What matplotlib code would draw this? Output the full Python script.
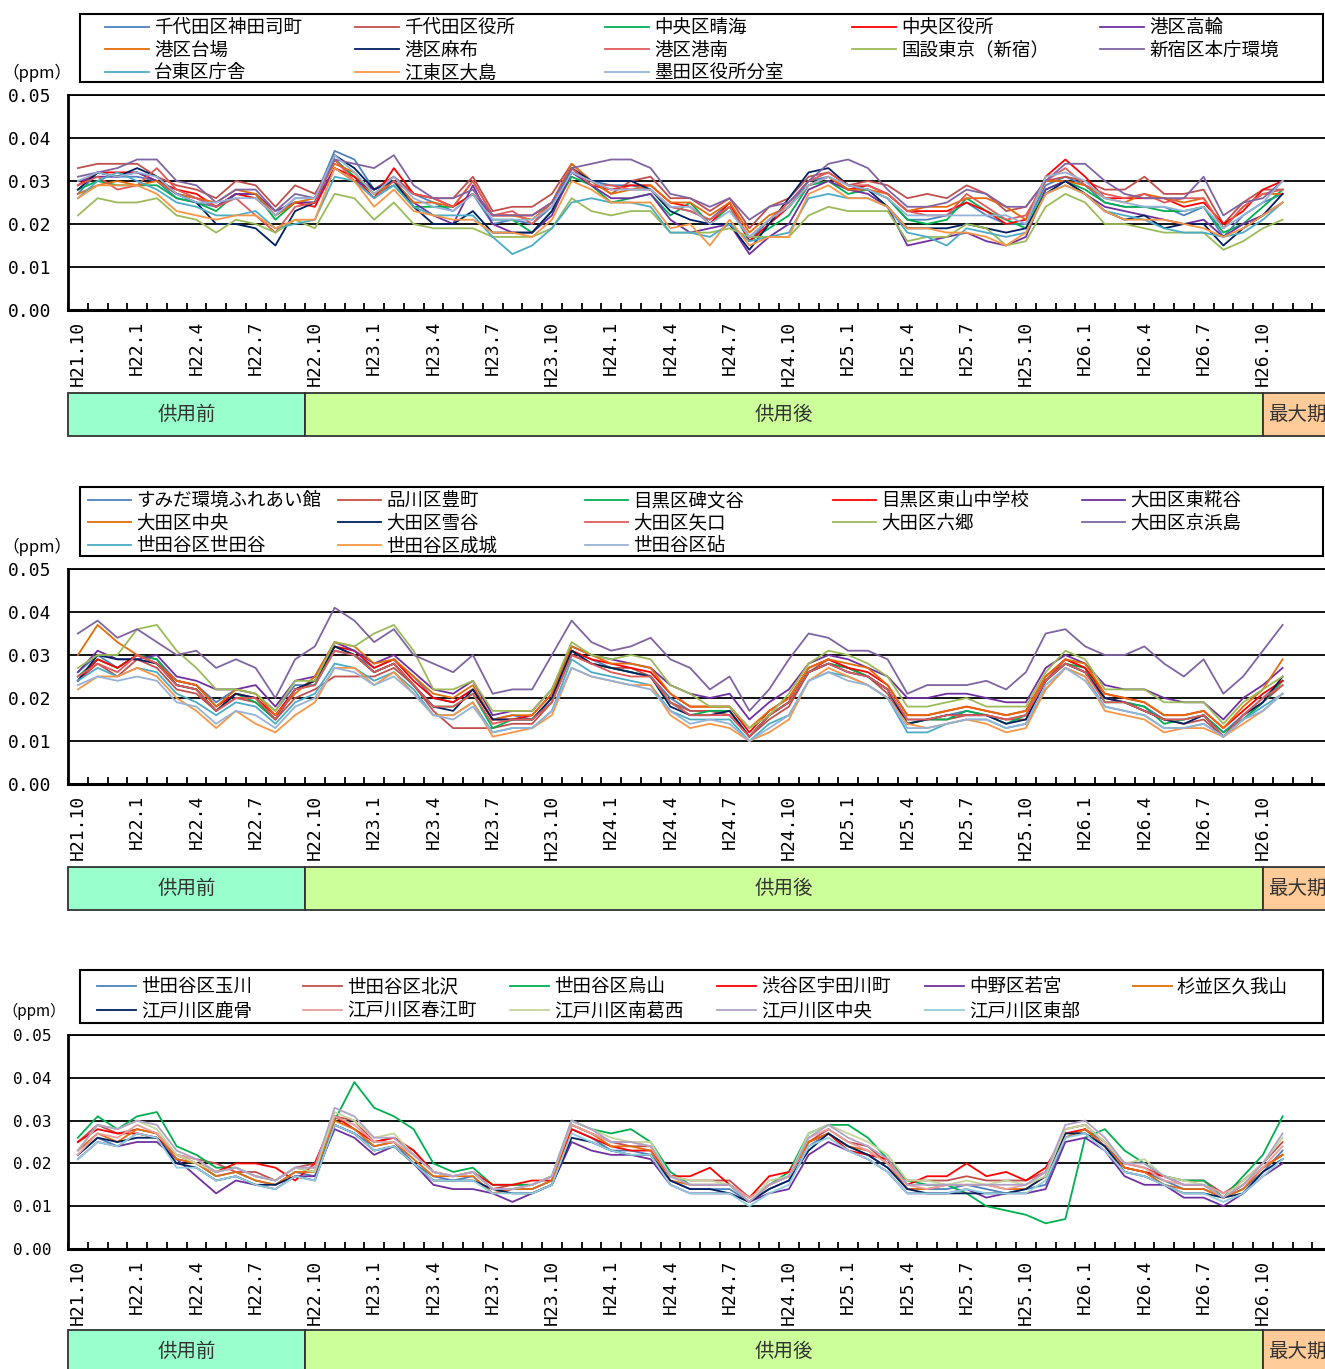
import matplotlib
matplotlib.use('Agg')
import matplotlib.pyplot as plt
from matplotlib.patches import Rectangle
import numpy as np

plt.rcParams['font.family'] = ['Noto Sans CJK JP', 'DejaVu Sans']

# ---------------- data (monthly means, unit: ppb = 0.001 ppm) ----------------
TICK_LABELS = ['H21.10', 'H22.1', 'H22.4', 'H22.7', 'H22.10', 'H23.1', 'H23.4',
               'H23.7', 'H23.10', 'H24.1', 'H24.4', 'H24.7', 'H24.10', 'H25.1',
               'H25.4', 'H25.7', 'H25.10', 'H26.1', 'H26.4', 'H26.7', 'H26.10']
PERIODS = ['供用前', '供用後', '最大期']

# panel 1
P1_NAMES = ['千代田区神田司町', '千代田区役所', '中央区晴海', '中央区役所', '港区高輪',
            '港区台場', '港区麻布', '港区港南', '国設東京（新宿）', '新宿区本庁環境',
            '台東区庁舎', '江東区大島', '墨田区役所分室']
KANDA = [27,32,31, 31,30,26, 25,24,27, 27,22,26, 26,37,35, 28,31,27, 25,23,27, 20,21,20, 24,32,30, 29,29,28, 24,23,21, 25,16,21, 24,30,31, 28,28,26, 21,21,22, 25,22,20, 20,29,31, 29,25,24, 24,24,22, 24,17,22, 25,27]
CHIYODA = [33,34,34, 34,31,29, 28,26,30, 29,24,29, 27,35,31, 28,31,27, 26,26,31, 23,24,24, 27,34,30, 27,30,31, 26,26,23, 26,19,24, 26,31,32, 29,30,29, 26,27,26, 29,27,23, 24,30,31, 30,28,28, 31,27,27, 28,20,25, 28,28]
HARUMI = [28,30,29, 29,29,26, 25,23,27, 27,21,25, 25,35,31, 27,29,24, 24,24,27, 21,21,18, 23,31,29, 25,26,27, 22,25,20, 24,16,19, 22,29,30, 27,28,26, 21,20,21, 26,23,21, 19,28,30, 28,25,24, 24,23,23, 24,18,20, 24,28]
CHUO = [29,32,32, 32,30,28, 27,24,27, 26,22,25, 24,33,31, 26,33,27, 26,24,27, 22,22,22, 25,33,29, 28,29,29, 25,24,20, 25,16,20, 24,29,31, 28,29,27, 23,23,23, 25,23,20, 21,31,35, 31,26,26, 26,26,24, 25,20,23, 28,30]
TAKANAWA = [30,31,31, 32,30,27, 26,24,27, 27,23,25, 25,33,30, 28,30,25, 22,20,29, 20,18,18, 22,32,29, 26,26,27, 21,18,19, 20,13,17, 20,28,30, 28,27,24, 15,16,17, 18,16,15, 17,28,30, 27,24,23, 22,21,20, 21,17,20, 22,25]
DAIBA = [27,29,30, 29,30,27, 26,25,28, 27,22,25, 26,34,32, 27,30,25, 25,24,30, 22,22,21, 25,34,30, 27,28,29, 25,25,22, 25,18,22, 24,29,31, 28,28,27, 23,24,24, 26,26,24, 21,30,30, 29,26,25, 27,26,25, 26,19,24, 27,27]
AZABU = [28,32,31, 33,31,27, 25,20,20, 19,15,23, 25,36,33, 28,30,24, 20,20,23, 18,18,18, 23,33,30, 30,30,28, 23,21,20, 20,14,20, 26,32,33, 29,28,24, 19,19,19, 20,19,18, 19,27,30, 27,23,21, 22,19,20, 20,15,19, 22,27]
KONAN = [29,31,28, 29,33,28, 26,24,26, 22,18,24, 25,35,30, 26,30,27, 26,24,30, 22,23,20, 25,33,29, 29,28,28, 24,23,21, 24,17,21, 25,30,32, 29,29,27, 23,22,22, 27,24,21, 22,30,33, 29,27,26, 27,25,26, 26,19,24, 27,28]
KOKUSETSU = [22,26,25, 25,26,22, 21,18,21, 20,18,21, 19,27,26, 21,25,20, 19,19,19, 17,17,17, 19,26,23, 22,23,23, 18,18,18, 19,17,17, 17,22,24, 23,23,23, 16,17,17, 20,19,15, 16,24,27, 25,20,20, 19,18,18, 18,14,16, 19,21]
SHINJUKU = [31,32,33, 35,35,30, 29,25,28, 28,23,27, 26,35,34, 33,36,29, 26,26,28, 22,22,22, 25,33,34, 35,35,33, 27,26,24, 26,21,24, 25,30,34, 35,33,28, 24,24,25, 28,27,24, 24,30,34, 34,30,27, 26,26,26, 31,22,25, 26,30]
TAITO = [26,30,32, 30,28,25, 24,22,22, 23,19,20, 21,31,30, 26,29,24, 22,22,22, 17,13,15, 19,25,26, 25,25,24, 18,18,17, 20,16,17, 18,26,27, 26,26,24, 18,17,15, 19,18,17, 18,27,29, 27,23,22, 21,19,18, 18,17,18, 21,25]
OJIMA = [26,29,29, 29,27,23, 22,21,22, 22,19,21, 21,33,30, 24,28,23, 22,21,21, 18,18,17, 21,30,28, 25,25,25, 19,20,15, 21,15,17, 17,27,29, 26,26,24, 19,19,18, 18,17,15, 18,27,29, 27,23,21, 21,21,20, 19,17,19, 22,25]
SUMIDA_BUN = [30,32,31, 32,31,27, 25,25,26, 26,22,26, 26,36,32, 27,31,26, 24,23,27, 21,21,21, 24,32,30, 28,28,28, 24,24,20, 23,17,21, 24,29,31, 29,28,26, 22,22,22, 22,22,22, 20,31,32, 30,26,25, 24,24,23, 24,19,22, 25,30]
P1_SERIES = [KANDA, CHIYODA, HARUMI, CHUO, TAKANAWA, DAIBA, AZABU, KONAN,
             KOKUSETSU, SHINJUKU, TAITO, OJIMA, SUMIDA_BUN]

# panel 2
P2_NAMES = ['すみだ環境ふれあい館', '品川区豊町', '目黒区碑文谷', '目黒区東山中学校', '大田区東糀谷',
            '大田区中央', '大田区雪谷', '大田区矢口', '大田区六郷', '大田区京浜島',
            '世田谷区世田谷', '世田谷区成城', '世田谷区砧']
SUMIDA_KAN = [26,30,27, 30,29,24, 23,19,22, 21,17,23, 23,31,30, 27,29,25, 20,19,22, 15,16,15, 20,31,29, 27,26,25, 20,17,17, 17,11,16, 19,26,28, 27,25,22, 15,15,16, 17,16,15, 16,24,28, 26,20,19, 18,15,15, 16,12,16, 20,24]
TOYOCHO = [24,28,25, 29,27,22, 21,17,20, 19,15,20, 22,25,25, 25,27,23, 17,13,13, 13,14,14, 19,30,28, 27,27,25, 19,17,17, 16,11,15, 18,26,29, 27,25,21, 14,15,15, 16,16,15, 15,24,29, 27,20,19, 17,15,14, 15,11,15, 19,23]
HIMONYA = [25,29,27, 30,29,23, 22,17,21, 19,15,22, 23,32,30, 26,28,23, 18,18,21, 13,15,15, 19,31,28, 27,26,25, 19,16,17, 17,11,16, 19,26,28, 27,25,22, 14,15,15, 17,16,14, 16,24,28, 27,19,19, 18,14,15, 16,12,15, 19,24]
HIGASHIYAMA = [24,29,27, 30,28,24, 23,18,21, 20,16,22, 24,32,31, 27,29,24, 20,19,22, 15,15,16, 21,31,29, 28,27,26, 21,18,18, 18,12,17, 20,27,29, 27,26,23, 16,16,17, 18,17,16, 17,25,29, 27,21,20, 19,16,16, 17,13,17, 21,24]
HIGASHIKOJIYA = [26,31,29, 29,30,25, 24,22,22, 23,18,24, 25,33,31, 28,30,26, 22,21,24, 16,17,17, 22,32,30, 29,28,27, 23,21,20, 21,15,19, 22,28,30, 29,27,25, 20,20,21, 21,20,19, 19,27,30, 28,23,22, 22,20,19, 19,15,20, 23,27]
OTA_CHUO = [30,37,33, 30,28,24, 23,18,22, 21,16,21, 25,33,32, 28,29,25, 21,20,23, 15,16,16, 21,32,30, 28,28,27, 21,18,18, 18,13,17, 20,27,29, 28,27,23, 16,16,17, 18,17,16, 17,25,29, 28,21,20, 19,16,16, 17,13,18, 22,29]
YUKIGAYA = [24,30,29, 29,28,23, 22,17,21, 20,15,22, 24,32,30, 26,28,23, 18,17,22, 15,15,15, 20,31,28, 27,26,25, 18,16,16, 17,11,16, 19,26,28, 26,25,22, 14,15,16, 16,16,14, 15,24,28, 26,20,19, 17,15,14, 16,11,16, 19,25]
YAGUCHI = [25,28,26, 30,28,23, 22,17,20, 20,15,22, 23,31,30, 26,28,23, 18,18,21, 14,15,15, 19,30,28, 26,25,25, 19,16,16, 16,11,16, 19,26,28, 26,25,22, 15,15,16, 16,16,15, 16,24,28, 26,19,19, 17,15,15, 16,11,16, 20,23]
ROKUGO = [27,30,30, 36,37,31, 27,22,22, 21,17,24, 24,33,32, 35,37,31, 22,22,24, 17,17,17, 22,33,30, 29,30,29, 23,21,18, 18,13,16, 21,28,31, 30,28,25, 18,18,19, 20,18,18, 18,26,31, 29,22,22, 22,19,19, 19,14,19, 22,25]
KEIHINJIMA = [35,38,34, 36,33,30, 31,27,29, 27,20,29, 32,41,38, 33,36,30, 28,26,30, 21,22,22, 30,38,33, 31,32,34, 29,27,22, 25,17,22, 29,35,34, 31,31,29, 21,23,23, 23,24,22, 26,35,36, 32,30,30, 32,28,25, 29,21,25, 31,37]
SETAGAYA = [24,27,25, 27,26,21, 19,16,19, 18,14,19, 21,28,27, 24,26,22, 16,16,19, 12,13,13, 17,29,26, 25,24,23, 17,15,15, 15,10,14, 16,24,26, 25,23,20, 12,12,14, 15,15,13, 14,22,27, 25,18,17, 16,13,13, 14,11,15, 18,21]
SEIJO = [22,25,25, 27,25,20, 17,13,17, 14,12,16, 19,27,27, 23,26,21, 16,16,19, 11,12,13, 16,27,25, 24,23,23, 16,13,14, 13,10,12, 15,24,27, 25,23,20, 14,13,14, 15,14,12, 13,22,27, 25,17,16, 15,12,13, 13,11,14, 17,21]
KINUTA = [23,25,24, 25,24,19, 18,14,17, 16,13,18, 20,27,26, 23,25,21, 16,15,18, 12,13,13, 17,27,25, 24,23,22, 17,14,15, 14,10,13, 16,24,26, 24,23,20, 13,13,14, 15,15,13, 14,23,27, 24,18,17, 16,13,13, 14,11,15, 17,21]
P2_SERIES = [SUMIDA_KAN, TOYOCHO, HIMONYA, HIGASHIYAMA, HIGASHIKOJIYA, OTA_CHUO,
             YUKIGAYA, YAGUCHI, ROKUGO, KEIHINJIMA, SETAGAYA, SEIJO, KINUTA]

# panel 3
P3_NAMES = ['世田谷区玉川', '世田谷区北沢', '世田谷区烏山', '渋谷区宇田川町', '中野区若宮',
            '杉並区久我山', '江戸川区鹿骨', '江戸川区春江町', '江戸川区南葛西', '江戸川区中央',
            '江戸川区東部']
TAMAGAWA = [22,26,24, 27,26,21, 20,17,18, 16,15,18, 17,29,27, 24,25,20, 17,16,17, 13,14,14, 16,28,26, 23,23,22, 16,14,14, 14,11,14, 16,24,27, 24,22,19, 14,14,14, 15,14,13, 14,15,26, 28,25,19, 18,16,14, 14,12,14, 18,23]
KITAZAWA = [25,29,27, 28,27,22, 21,20,18, 18,16,19, 20,31,30, 25,26,23, 18,17,18, 14,15,15, 17,29,27, 25,24,24, 17,16,16, 16,12,15, 17,25,28, 25,24,20, 16,16,16, 17,16,16, 16,18,28, 29,25,20, 19,17,16, 16,13,16, 20,25]
KARASUYAMA = [26,31,28, 31,32,24, 22,19,19, 17,16,19, 18,30,39, 33,31,28, 20,18,19, 15,15,15, 17,30,28, 27,28,25, 18,15,15, 15,11,15, 18,27,29, 29,26,21, 16,15,15, 13,10,9, 8,6,7, 26,28,23, 20,17,16, 16,12,17, 22,31]
UDAGAWA = [25,28,27, 27,26,22, 20,18,20, 20,19,16, 20,31,28, 25,26,23, 18,17,18, 15,15,16, 16,28,26, 24,23,23, 17,17,19, 15,12,17, 18,25,27, 23,22,21, 15,17,17, 20,17,18, 16,19,27, 28,24,19, 18,17,15, 15,12,15, 19,22]
WAKAMIYA = [21,25,24, 25,25,21, 17,13,16, 15,14,17, 17,28,26, 22,24,20, 15,14,14, 13,11,13, 15,25,23, 22,22,21, 15,13,13, 13,11,13, 14,22,25, 23,21,18, 13,13,13, 14,12,13, 13,14,25, 26,23,17, 15,15,12, 12,10,13, 17,20]
KUGAYAMA = [23,27,25, 28,27,21, 20,17,18, 16,15,18, 18,30,28, 24,25,21, 17,17,17, 13,14,14, 16,29,27, 24,24,23, 16,15,15, 15,11,15, 17,25,27, 24,23,20, 14,14,15, 15,15,14, 14,17,26, 28,24,19, 18,15,14, 14,12,14, 19,22]
SHISHIBONE = [22,26,25, 26,26,20, 19,16,17, 15,15,17, 16,29,27, 23,24,20, 16,16,16, 14,13,13, 15,26,25, 23,22,22, 16,14,14, 13,11,14, 16,23,27, 24,22,19, 14,13,13, 13,13,13, 14,17,27, 27,24,18, 17,15,13, 13,12,13, 18,21]
HARUE = [22,27,26, 29,27,22, 21,18,19, 17,16,19, 19,31,29, 25,25,22, 18,17,18, 14,14,15, 17,29,27, 25,25,24, 17,15,15, 15,12,15, 17,26,28, 25,23,20, 15,14,15, 15,15,14, 15,18,28, 29,25,20, 19,16,15, 15,13,15, 19,24]
MINAMIKASAI = [23,29,28, 30,28,22, 20,18,19, 17,16,19, 18,32,30, 26,27,22, 18,17,18, 14,14,15, 17,30,28, 26,25,25, 17,16,16, 15,11,16, 17,27,29, 27,25,22, 16,16,15, 16,15,16, 15,17,28, 29,25,20, 21,17,16, 15,12,16, 20,26]
EDOGAWA_CHUO = [23,29,28, 30,29,23, 21,18,19, 17,16,19, 19,33,31, 26,26,22, 18,17,18, 14,14,15, 17,30,28, 25,25,24, 17,15,15, 15,11,15, 17,26,29, 26,24,21, 15,15,15, 15,15,15, 15,18,29, 30,26,20, 20,17,15, 15,12,15, 20,27]
TOBU = [21,25,24, 27,26,19, 19,16,17, 15,14,17, 16,29,27, 23,24,20, 16,16,16, 13,13,13, 15,27,25, 23,22,22, 15,13,13, 13,10,13, 15,24,26, 23,21,18, 13,13,13, 14,13,13, 13,16,26, 27,23,18, 17,15,13, 13,11,13, 17,21]
P3_SERIES = [TAMAGAWA, KITAZAWA, KARASUYAMA, UDAGAWA, WAKAMIYA, KUGAYAMA,
             SHISHIBONE, HARUE, MINAMIKASAI, EDOGAWA_CHUO, TOBU]

COLORS_A = ['#4F81BD', '#C0504D', '#00B050', '#FF0000', '#7030A0', '#E46C0A', '#002060',
            '#E05A5A', '#9BBB59', '#8064A2', '#4BACC6', '#F79646', '#95B3D7']
COLORS_B = ['#4F81BD', '#C0504D', '#00B050', '#FF0000', '#7030A0', '#E46C0A', '#002060',
            '#E6A0A0', '#C3D69B', '#B3A2C7', '#93CDDD']

PPB_TO_PPM = 0.001

# ---------------- layout ----------------
W, H = 1325, 1369
fig = plt.figure(figsize=(W / 100, H / 100), dpi=100)
PX_PER_CAT = 19.75
N_CAT_AXIS = 64
AX_LEFT = 68


def fx(px):
    return px / W


def fy(py):
    return 1 - py / H


MONO = 'DejaVu Sans Mono'


def draw_panel(names, series, colors, ax_top, ax_bot, leg_top, leg_bot, ncol,
               col_x, row1_center, handlelen, lspace, ppm_y, band_top, ytick_fs, ppm_fs):
    axw = N_CAT_AXIS * PX_PER_CAT
    ax = fig.add_axes([fx(AX_LEFT), fy(ax_bot), fx(axw), (ax_bot - ax_top) / H])
    lines = []
    for vals, c in zip(series, colors):
        x = np.arange(len(vals))
        ln, = ax.plot(x, np.array(vals) * PPB_TO_PPM, color=c, lw=1.3, zorder=3)
        lines.append(ln)
    ax.set_xlim(-0.5, N_CAT_AXIS - 0.5)
    ax.set_ylim(0, 0.05)
    yt = [0, 0.01, 0.02, 0.03, 0.04, 0.05]
    ax.set_yticks(yt)
    ax.set_yticklabels(['%.2f' % v for v in yt], fontfamily=MONO, fontsize=ytick_fs)
    ax.grid(axis='y', color='black', lw=1.3)
    ax.set_axisbelow(True)
    ax.set_xticks(np.arange(0, 3 * len(TICK_LABELS), 3))
    ax.set_xticklabels(TICK_LABELS, rotation=90, fontfamily=MONO, fontsize=13)
    ax.set_xticks(np.arange(-0.5, N_CAT_AXIS, 1), minor=True)
    ax.tick_params(axis='x', which='major', length=0, pad=8)
    ax.tick_params(axis='x', which='minor', direction='in', length=5, width=1.3)
    ax.tick_params(axis='y', length=0, pad=12)
    ax.spines['right'].set_visible(False)
    ax.spines['left'].set_linewidth(2)
    ax.spines['bottom'].set_linewidth(2.2)
    ax.spines['top'].set_linewidth(1.3)

    # unit label
    fig.text(fx(2), fy(ppm_y), '（ppm）', fontsize=ppm_fs, va='center', ha='left')

    # legend frame + columns
    fig.add_artist(Rectangle((fx(80), fy(leg_bot)), fx(1323 - 80), (leg_bot - leg_top) / H,
                             transform=fig.transFigure, fill=False, ec='black', lw=1.5))
    n = len(names)
    for c in range(ncol):
        idx = list(range(c, n, ncol))
        fig.legend([lines[k] for k in idx], [names[k] for k in idx],
                   loc='upper left', bbox_to_anchor=(fx(col_x[c]), fy(row1_center - 7)),
                   frameon=False, borderpad=0, borderaxespad=0, handlelength=handlelen,
                   handletextpad=0.28, labelspacing=lspace, fontsize=13.3)

    # period band
    bax = fig.add_axes([fx(AX_LEFT), fy(band_top + 43), fx(axw), 43 / H])
    bax.set_xlim(-0.5, N_CAT_AXIS - 0.5)
    bax.set_ylim(0, 1)
    bax.axis('off')
    spans = [(-0.5, 11.5, '#99FFCC'), (11.5, 60, '#CCFF99'), (60, N_CAT_AXIS - 0.5, '#FFCC99')]
    text_x = [5.5, 35.75, 61.75]
    for (a, b, col), label, tx in zip(spans, PERIODS, text_x):
        bax.add_patch(Rectangle((a, 0), b - a, 1, facecolor=col, edgecolor='#333333',
                                lw=1.3, clip_on=False))
        bax.text(tx, 0.5, label, ha='center', va='center', fontsize=14, color='#333333')
    return ax


draw_panel(P1_NAMES, P1_SERIES, COLORS_A, 95, 310, 14, 82, 5,
           [105, 355, 605, 852, 1100], 26, 2.38, 0.25, 73, 393, 13, 12)
draw_panel(P2_NAMES, P2_SERIES, COLORS_A, 569, 784, 487, 556, 5,
           [88, 338, 585, 833, 1082], 499, 2.33, 0.25, 547, 867, 13, 12)
draw_panel(P3_NAMES, P3_SERIES, COLORS_B, 1035, 1249, 970, 1023, 6,
           [97, 303, 510, 717, 925, 1133], 985, 2.1, 0.36, 1011, 1330, 11.5, 11)

fig.savefig('out.png', dpi=100)
